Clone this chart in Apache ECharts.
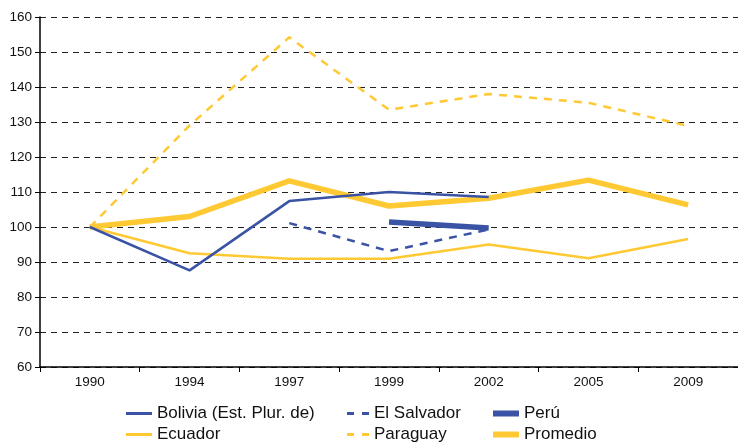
<!DOCTYPE html>
<html>
<head>
<meta charset="utf-8">
<script src="https://cdn.jsdelivr.net/npm/echarts@6/dist/echarts.min.js"></script>
<style>
html,body{margin:0;padding:0;background:#fff;}
#main{width:738px;height:442px;}
</style>
</head>
<body>
<div id="main"></div>
<script>
let years = ['1990', '1994', '1997', '1999', '2002', '2005', '2009'];
let bolivia = [100, 87.6, 107.4, 110, 108.6, null, null];
let elSalvador = [null, null, 101.1, 93.1, 99.3, null, null];
let peru = [null, null, null, 101.4, 99.7, null, null];
let ecuador = [100, 92.5, 90.9, 90.9, 95, 91.1, 96.6];
let paraguay = [100, 129, 154.2, 133.5, 138, 135.5, 128.9];
let promedio = [100, 103, 113.2, 106, 108.2, 113.4, 106.3];

let blue = '#3A53A4';
let yellow = '#FFC933';

window.addEventListener('load', function () {
    let chart = echarts.init(document.getElementById('main'));

    function mk(name, data, color, width, type, z) {
        return {
            name: name,
            type: 'line',
            data: data,
            symbol: 'none',
            z: z,
            connectNulls: false,
            lineStyle: {color: color, width: width, type: type},
            itemStyle: {color: color}
        };
    }

    let solidIcon = 'path://M0,0H26V3H0Z';
    let dashIcon = 'path://M0,0H7V3H0Z M15,0H22V3H15Z';
    let thickIcon = 'path://M0,0H26V6H0Z';

    // name, left, top, icon, width, height
    let legendPos = [
        ['Bolivia (Est. Plur. de)', 126, 405, solidIcon, 26, 3],
        ['El Salvador', 347, 405, dashIcon, 22, 3],
        ['Perú', 493, 405, thickIcon, 26, 6],
        ['Ecuador', 126, 426, solidIcon, 26, 3],
        ['Paraguay', 347, 426, dashIcon, 22, 3],
        ['Promedio', 493, 426, thickIcon, 26, 6]
    ];
    let legends = legendPos.map(function (p) {
        return {
            data: [{name: p[0], icon: p[3]}],
            left: p[1],
            top: p[2],
            itemWidth: p[4],
            itemHeight: p[5],
            symbolKeepAspect: false,
            padding: 0,
            textStyle: {fontFamily: 'Liberation Sans', fontSize: 17, color: '#111'}
        };
    });

    let option = {
        backgroundColor: '#fff',
        animation: false,
        legend: legends,
        grid: {left: 40, right: -2, top: 17, bottom: 75},
        xAxis: {
            type: 'category',
            data: years,
            boundaryGap: true,
            axisLine: {lineStyle: {color: '#000', width: 1.5}},
            axisTick: {show: true, length: 5, lineStyle: {color: '#000'}},
            axisLabel: {fontFamily: 'Liberation Sans', fontSize: 13.5, color: '#111', margin: 8}
        },
        yAxis: {
            type: 'value',
            min: 60,
            max: 160,
            interval: 10,
            axisLine: {show: true, lineStyle: {color: '#000', width: 1.5}},
            axisTick: {show: true, length: 5, lineStyle: {color: '#000'}},
            axisLabel: {fontFamily: 'Liberation Sans', fontSize: 13.5, color: '#111', margin: 8},
            splitLine: {lineStyle: {color: '#222', type: [6, 5], width: 1}}
        },
        series: [
            mk('Bolivia (Est. Plur. de)', bolivia, blue, 2.5, 'solid', 3),
            mk('El Salvador', elSalvador, blue, 2.5, [8, 7], 3),
            mk('Perú', peru, blue, 5.5, 'solid', 4),
            mk('Ecuador', ecuador, yellow, 2.5, 'solid', 2),
            mk('Paraguay', paraguay, yellow, 2.5, [8, 7], 2),
            mk('Promedio', promedio, yellow, 5.5, 'solid', 2)
        ]
    };

    chart.setOption(option);
});
</script>
</body>
</html>
